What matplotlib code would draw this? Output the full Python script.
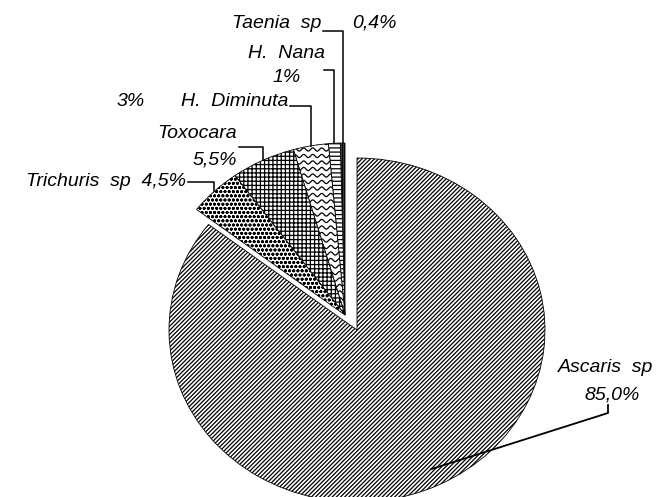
import numpy as np
import matplotlib
matplotlib.use("Agg")
import matplotlib.pyplot as plt

# data (going counter-clockwise from 12 o'clock)
species = ["Taenia sp", "H. Nana", "H. Diminuta", "Toxocara", "Trichuris sp", "Ascaris sp"]
shares = [0.4, 1, 3, 5.5, 4.5, 85.0]
share_labels = ["0,4%", "1%", "3%", "5,5%", "4,5%", "85,0%"]

hatches = ["|" * 8, "-" * 4, "", "+" * 4, "o" * 4, "/" * 8]

W, H = 663, 497
CX, CY = 345, 315      # pie centre in pixels (top-left origin)
RX, RY = 188, 172      # pie radii in pixels (the figure is stretched)
ASC_SHIFT = (12, 15)   # pixel offset of the pulled out Ascaris slice

plt.rcParams["hatch.linewidth"] = 0.9
plt.rcParams["font.family"] = ["Liberation Sans", "DejaVu Sans"]

fig = plt.figure(figsize=(W / 100, H / 100), dpi=100)
ax = fig.add_axes([0, 0, 1, 1])


def px(x, y):
    # pixel position -> data position (pie radius = 1)
    return (x - CX) / RX, (CY - y) / RY


wedges, _ = ax.pie(shares, startangle=90, counterclock=True,
                   wedgeprops=dict(facecolor="white", edgecolor="black", linewidth=0.6))
for w, h in zip(wedges, hatches):
    w.set_hatch(h)
wedges[0].set_facecolor("#555555")

# pull out the big slice
wedges[-1].set_center((ASC_SHIFT[0] / RX, -ASC_SHIFT[1] / RY))

ax.set_aspect("auto")
ax.set_xlim(px(0, 0)[0], px(W, 0)[0])
ax.set_ylim(px(0, H)[1], px(0, 0)[1])
ax.axis("off")

# wavy pattern for H. Diminuta
wav = wedges[2]
xs = np.linspace(150, 360, 600)
for yy in np.arange(130, 330, 6.5):
    ys = yy + 1.6 * np.sin(2 * np.pi * xs / 9.0)
    dx, dy = px(xs, ys)
    ln, = ax.plot(dx, dy, color="black", lw=0.9)
    ln.set_clip_path(wav)


def edge_point(w, frac=1.0):
    mid = np.deg2rad((w.theta1 + w.theta2) / 2)
    cx, cy = w.center
    return cx + frac * np.cos(mid), cy + frac * np.sin(mid)


tkw = dict(fontsize=14, style="italic", color="black", va="center")

# label layout in pixels: (text, x, y, ha)
label_layout = [
    [("Taenia  sp", 321, 23, "right"), ("0,4%", 352, 23, "left")],
    [("H.  Nana", 286, 53, "center"), ("1%", 287, 77, "center")],
    [("H.  Diminuta", 288, 101, "right"), ("3%", 117, 101, "left")],
    [("Toxocara", 237, 134, "right"), ("5,5%", 237, 160, "right")],
    [("Trichuris  sp  4,5%", 186, 182, "right")],
    [("Ascaris  sp", 606, 367, "center"), ("85,0%", 612, 395, "center")],
]
leader_start = [(323, 31), (324, 70), (290, 106), (239, 147), (188, 182), (608, 405)]

for i, w in enumerate(wedges):
    for txt, x, y, ha in label_layout[i]:
        ax.text(*px(x, y), txt, ha=ha, **tkw)
    sx, sy = px(*leader_start[i])
    if i < 5:
        ex, ey = edge_point(w)
        ax.plot([sx, ex, ex], [sy, sy, ey], color="black", lw=1.1)
    else:
        ex, ey = edge_point(w, 0.9)
        ax.plot([sx, sx, ex], [sy, sy - 8 / RY, ey], color="black", lw=1.3)

fig.savefig("out.png", dpi=100, facecolor="white")
